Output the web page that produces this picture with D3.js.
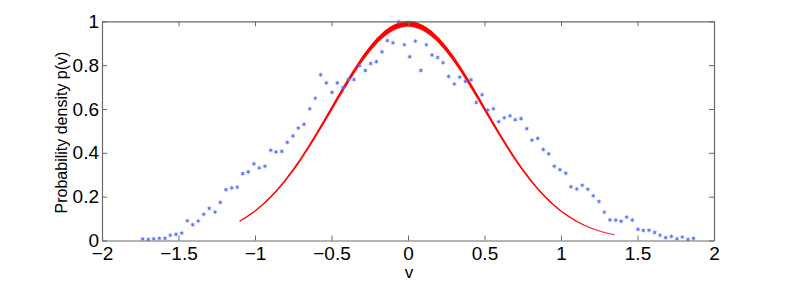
<!DOCTYPE html>
<html>
<head>
<meta charset="utf-8">
<script src="https://cdn.jsdelivr.net/npm/d3@7"></script>
<style>
  html, body { margin: 0; padding: 0; background: #fff; }
  svg { display: block; }
  text { font-family: "Liberation Sans", Arial, Helvetica, sans-serif; fill: #000; }
</style>
</head>
<body>
<svg id="chart" width="789" height="283"></svg>
<script>
// ---- data ----
const sampleV = [
  -1.734,-1.697,-1.662,-1.625,-1.588,-1.554,-1.516,-1.479,-1.442,-1.407,
  -1.371,-1.335,-1.299,-1.261,-1.227,-1.190,-1.152,-1.116,-1.080,-1.044,
  -1.007,-0.972,-0.935,-0.897,-0.863,-0.825,-0.789,-0.752,-0.717,-0.680,
  -0.642,-0.606,-0.571,-0.534,-0.497,-0.462,-0.425,-0.389,-0.353,-0.316,
  -0.279,-0.244,-0.207,-0.170,-0.135,-0.098,-0.061,-0.024,0.011,0.048,
  0.084,0.120,0.157,0.194,0.229,0.266,0.303,0.338,0.375,0.412,
  0.446,0.484,0.521,0.558,0.593,0.629,0.667,0.701,0.739,0.776,
  0.810,0.848,0.884,0.920,0.956,0.993,1.031,1.065,1.103,1.139,
  1.175,1.211,1.248,1.283,1.320,1.358,1.393,1.429,1.466,1.503,
  1.538,1.575,1.612,1.647,1.684,1.721,1.758,1.793,1.830,1.866
];
const sampleP = [
  0.007,0.005,0.008,0.010,0.010,0.024,0.028,0.034,0.090,0.072,
  0.089,0.120,0.147,0.130,0.174,0.232,0.240,0.243,0.305,0.313,
  0.350,0.331,0.339,0.412,0.404,0.407,0.448,0.477,0.513,0.530,
  0.601,0.649,0.756,0.719,0.676,0.719,0.698,0.736,0.734,0.797,
  0.776,0.807,0.816,0.861,0.912,0.902,0.998,0.893,0.838,0.910,
  0.776,0.893,0.846,0.835,0.811,0.749,0.714,0.745,0.726,0.733,
  0.630,0.665,0.595,0.601,0.542,0.560,0.569,0.551,0.556,0.510,
  0.458,0.466,0.415,0.395,0.339,0.323,0.307,0.245,0.235,0.252,
  0.234,0.204,0.178,0.129,0.094,0.093,0.088,0.107,0.093,0.051,
  0.046,0.047,0.037,0.024,0.013,0.019,0.008,0.016,0.005,0.010
];
// fitted curve, read at steps along v
const curveV = [
  -1.10,-1.05,-1.00,-0.95,-0.90,-0.85,-0.80,-0.75,-0.70,-0.65,
  -0.60,-0.55,-0.50,-0.45,-0.40,-0.35,-0.30,-0.25,-0.20,-0.15,
  -0.10,-0.05,0.00,0.05,0.10,0.15,0.20,0.25,0.30,0.35,
  0.40,0.45,0.50,0.55,0.60,0.65,0.70,0.75,0.80,0.85,
  0.90,0.95,1.00,1.05,1.10,1.15,1.20,1.25,1.30,1.35
];
const curveP = [
  0.0889,0.1103,0.1353,0.1645,0.1979,0.2357,0.2780,0.3247,0.3753,0.4296,
  0.4868,0.5461,0.6065,0.6670,0.7261,0.7827,0.8353,0.8825,0.9231,0.9560,
  0.9802,0.9950,1.0000,0.9950,0.9802,0.9560,0.9231,0.8825,0.8353,0.7827,
  0.7261,0.6670,0.6065,0.5461,0.4868,0.4296,0.3753,0.3247,0.2780,0.2357,
  0.1979,0.1645,0.1353,0.1103,0.0889,0.0710,0.0561,0.0439,0.0340,0.0261
];
// spread of the overlapping fitted curves (lower amplitude factor)
const curveSpread = [1.0, 0.976];
const xTicks = [-2,-1.5,-1,-0.5,0,0.5,1,1.5,2];
const xTickLabels = ["\u22122","\u22121.5","\u22121","\u22120.5","0","0.5","1","1.5","2"];
const yTicks = [0,0.2,0.4,0.6,0.8,1];
const yTickLabels = ["0","0.2","0.4","0.6","0.8","1"];
const xLabel = "v";
const yLabel = "Probability density p(v)";

// ---- drawing ----
const svg = d3.select("#chart");
const L = 102, R = 714, T = 21.3, B = 240.5;
const x = d3.scaleLinear().domain([-2, 2]).range([L, R]);
const y = d3.scaleLinear().domain([0, 1]).range([B, T]);

const axisColor = "#6a6a6a";

// red fitted curve(s): band between amplitudes, plus the outline
const curve = curveV.map((v, i) => ({v, p: curveP[i]}));
const bandArea = d3.area()
  .x(d => x(d.v))
  .y0(d => y(d.p * curveSpread[1]))
  .y1(d => y(d.p * curveSpread[0]))
  .curve(d3.curveCatmullRom);
svg.append("path").datum(curve)
  .attr("d", bandArea)
  .attr("fill", "#ff0000")
  .attr("stroke", "none");

// outline drawn as segments, fading where the curve was sparsely sampled
const segs = d3.pairs(curve);
const lineGen = d3.line().x(d => x(d.v)).y(d => y(d.p));
svg.append("g").selectAll("path").data(segs).join("path")
  .attr("d", d => lineGen(d))
  .attr("fill", "none")
  .attr("stroke", "#ff0000")
  .attr("stroke-width", 1.1)
  .attr("stroke-opacity", d => Math.min(1, 0.35 + d[0].p * 5));
svg.append("path").datum(curve)
  .attr("d", d3.line().x(d => x(d.v)).y(d => y(d.p * curveSpread[1])).curve(d3.curveCatmullRom))
  .attr("fill", "none")
  .attr("stroke", "#ff0000")
  .attr("stroke-width", 0.8)
  .attr("stroke-opacity", 0.5);

// blue asterisk samples
const samples = sampleV.map((v, i) => ({v, p: sampleP[i]}));
const sym = d3.symbol().type(d3.symbolAsterisk).size(14);
const mk = svg.append("g").selectAll("g").data(samples).join("g")
  .attr("transform", d => `translate(${x(d.v)},${y(d.p)})`);
mk.append("path")
  .attr("d", sym)
  .attr("fill", "none")
  .attr("stroke", "#6a86ff")
  .attr("stroke-width", 1.1)
  .attr("stroke-opacity", 0.6);
mk.append("circle")
  .attr("r", 1.3)
  .attr("fill", "#4a6cff")
  .attr("fill-opacity", 0.85);

// axes (box with inward ticks)
function styleAxis(g) {
  g.selectAll(".domain").attr("stroke", axisColor).attr("stroke-width", 1.2);
  g.selectAll(".tick line").attr("stroke", axisColor).attr("stroke-width", 1);
  g.selectAll("text").attr("font-size", 19).attr("font-family", "'Liberation Sans', Arial, sans-serif").attr("fill", "#000");
}
svg.append("g").attr("transform", `translate(0,${B})`)
  .call(d3.axisBottom(x).tickValues(xTicks).tickSize(-5).tickSizeOuter(0)
    .tickPadding(6.5).tickFormat((d, i) => xTickLabels[i]))
  .call(styleAxis);
svg.append("g").attr("transform", `translate(0,${T})`)
  .call(d3.axisTop(x).tickValues(xTicks).tickSize(-5).tickSizeOuter(0).tickFormat(""))
  .call(styleAxis);
svg.append("g").attr("transform", `translate(${L},0)`)
  .call(d3.axisLeft(y).tickValues(yTicks).tickSize(-5).tickSizeOuter(0)
    .tickPadding(3).tickFormat((d, i) => yTickLabels[i]))
  .call(styleAxis);
svg.append("g").attr("transform", `translate(${R},0)`)
  .call(d3.axisRight(y).tickValues(yTicks).tickSize(-5).tickSizeOuter(0).tickFormat(""))
  .call(styleAxis);

// labels
svg.append("text")
  .attr("x", 409).attr("y", 277.5)
  .attr("text-anchor", "middle")
  .attr("font-size", 17)
  .text(xLabel);
svg.append("text")
  .attr("transform", "translate(67,132.5) rotate(-90)")
  .attr("text-anchor", "middle")
  .attr("font-size", 16)
  .text(yLabel);
</script>
</body>
</html>
